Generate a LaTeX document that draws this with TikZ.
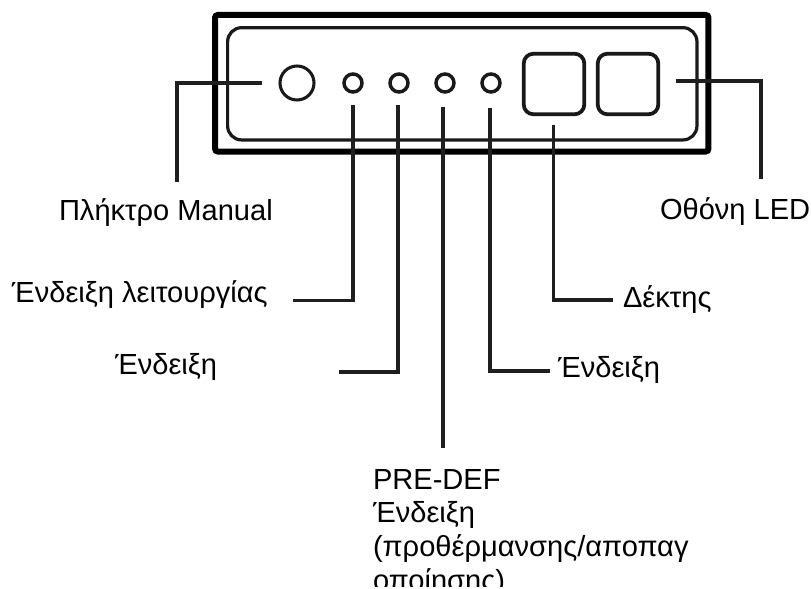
\documentclass[tikz,border=0pt]{standalone}
\usepackage{fontspec}
\setmainfont{Liberation Sans}
\usepackage{tikz}

\begin{document}
\begin{tikzpicture}[x=0.75pt, y=-0.75pt,
        every node/.style = {inner sep=0pt, outer sep=0pt},
        label/.style = {anchor=base west, font=\fontsize{21.8pt}{25.3pt}\selectfont, align=left},
        lead/.style = {line width=2.3pt, black!88},
        lamp/.style = {shape=circle, draw, line width=2.6pt, minimum size=13.5pt, black!90},
        window/.style = {shape=rectangle, rounded corners=7.5pt, draw, line width=2.8pt, black!90,
                         minimum width=45.5pt, minimum height=45.5pt}]
    \useasboundingbox (0,0) rectangle (811,589);
    \clip (0,0) rectangle (811,586);
    % frame
    \node[draw, line width=4.5pt, rounded corners=2pt, minimum width=370pt, minimum height=102.4pt] (frame) at (461.75,83.25) {};
    \node[draw, line width=2.4pt, rounded corners=10.5pt, minimum width=352pt, minimum height=84.2pt, black!90] (panel) at (462.3,83.8) {};
    % controls
    \node[lamp, line width=2.3pt, minimum size=25.5pt] (manual) at (297,83) {};
    \node[lamp] (run) at (353,83) {};
    \node[lamp] (ind) at (399,83) {};
    \node[lamp] (predef) at (445,83) {};
    \node[lamp] (indb) at (491,83) {};
    \node[window] (recv) at (554,84) {};
    \node[window] (led) at (628,84) {};
    % labels
    \node[label] (tmanual) at (59,220) {Πλήκτρο Manual};
    \node[label] (trun) at (12,302) {Ένδειξη λειτουργίας};
    \node[label] (tind) at (115,374) {Ένδειξη};
    \node[label] (tindb) at (558,377) {Ένδειξη};
    \node[label] (trecv) at (623,307) {Δέκτης};
    \node[label] (tled) at (660,219) {Οθόνη LED};
    \node[label, text width=320pt] (tpredef) at (373,489) {PRE-DEF\\Ένδειξη\\(προθέρμανσης/αποπαγ\\οποίησης)};
    % leads
    \coordinate (a1) at (262,83);
    \coordinate (a2) at (177,182);
    \draw[lead] (a1) -| (a2);
    \coordinate (b1) at (353,105);
    \coordinate (b2) at (293,300.5);
    \draw[lead] (b1) |- (b2);
    \coordinate (c1) at (398,105);
    \coordinate (c2) at (339,372);
    \draw[lead] (c1) |- (c2);
    \coordinate (d1) at (443,107);
    \coordinate (d2) at (443,448);
    \draw[lead] (d1) -- (d2);
    \coordinate (e1) at (490,108);
    \coordinate (e2) at (550,371);
    \draw[lead] (e1) |- (e2);
    \coordinate (f1) at (553.5,125);
    \coordinate (f2) at (613,300);
    \draw[lead] (f1) |- (f2);
    \coordinate (g1) at (676,81);
    \coordinate (g2) at (761,179);
    \draw[lead] (g1) -| (g2);
\end{tikzpicture}
\end{document}
